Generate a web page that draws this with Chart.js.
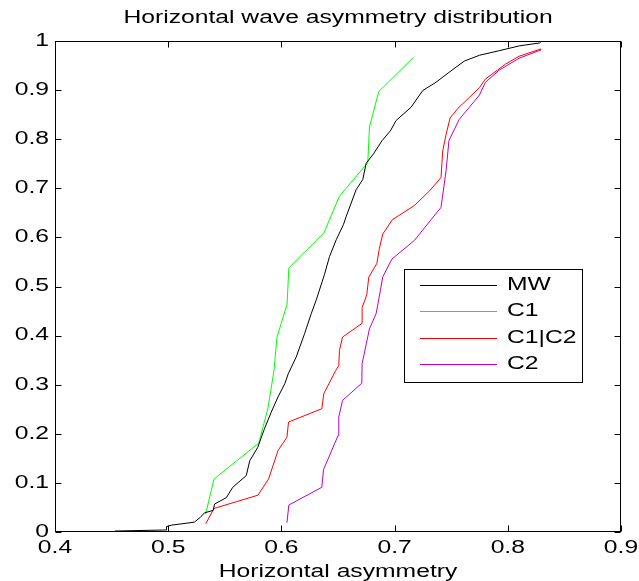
<!DOCTYPE html>
<html>
<head>
<meta charset="utf-8">
<script src="https://cdn.jsdelivr.net/npm/chart.js@4.4.1/dist/chart.umd.min.js"></script>
<style>
  html, body { margin: 0; padding: 0; background: #fff; }
  canvas { display: block; }
</style>
</head>
<body>
<canvas id="cdf" width="639" height="581"></canvas>
<script>
// ─── Horizontal wave asymmetry CDFs ───
const titleText  = 'Horizontal wave asymmetry distribution';
const xAxisTitle = 'Horizontal asymmetry';
const xTicks = [0.4, 0.5, 0.6, 0.7, 0.8, 0.9];
const yTicks = [0, 0.1, 0.2, 0.3, 0.4, 0.5, 0.6, 0.7, 0.8, 0.9, 1];

// MW (all waves)
const mwX = [0.453, 0.495, 0.4985, 0.4985, 0.503, 0.523, 0.528, 0.532, 0.5397, 0.541, 0.5514, 0.557,
             0.569, 0.572, 0.579, 0.585, 0.591, 0.597, 0.603, 0.606, 0.613, 0.6205, 0.6264, 0.6307,
             0.638, 0.6425, 0.6484, 0.6548, 0.6573, 0.666, 0.6719, 0.6749, 0.6813, 0.6889, 0.6963,
             0.7013, 0.7145, 0.7248, 0.7366, 0.748, 0.7615, 0.775, 0.792, 0.81, 0.828, 0.83];
const mwY = [0.002, 0.004, 0.004, 0.011, 0.014, 0.02, 0.029, 0.039, 0.044, 0.057, 0.070, 0.091,
             0.115, 0.145, 0.172, 0.21, 0.244, 0.275, 0.302, 0.322, 0.356, 0.404, 0.445, 0.472,
             0.524, 0.561, 0.595, 0.626, 0.643, 0.697, 0.718, 0.751, 0.770, 0.797, 0.817,
             0.838, 0.865, 0.899, 0.916, 0.936, 0.959, 0.971, 0.98, 0.99, 0.996, 1.0];

// C1
const c1X = [0.533, 0.5405, 0.580, 0.588, 0.5935, 0.596, 0.605, 0.6066, 0.6375, 0.6513, 0.6763, 0.6778, 0.686, 0.7168];
const c1Y = [0.036, 0.108, 0.181, 0.251, 0.329, 0.396, 0.464, 0.538, 0.609, 0.684, 0.752, 0.825, 0.897, 0.967];

// C1|C2
const c12X = [0.5332, 0.5405, 0.5793, 0.5887, 0.597, 0.6049, 0.6063, 0.6357, 0.6375, 0.648, 0.6507, 0.6513,
              0.654, 0.6713, 0.6713, 0.6754, 0.6772, 0.6843, 0.6866, 0.6896, 0.698, 0.7175, 0.731, 0.741,
              0.7425, 0.7455, 0.749, 0.756, 0.766, 0.775, 0.78, 0.798, 0.81, 0.8295];
const c12Y = [0.017, 0.048, 0.075, 0.108, 0.166, 0.193, 0.224, 0.251, 0.282, 0.329, 0.339, 0.370,
              0.397, 0.425, 0.457, 0.483, 0.519, 0.547, 0.578, 0.607, 0.636, 0.665, 0.695, 0.722,
              0.776, 0.81, 0.843, 0.863, 0.885, 0.905, 0.922, 0.953, 0.969, 0.984];

// C2
const c2X = [0.6049, 0.6066, 0.6357, 0.6372, 0.650, 0.6507, 0.654, 0.671, 0.6713, 0.6778, 0.6837, 0.6851,
             0.6896, 0.6977, 0.7175, 0.7322, 0.741, 0.7455, 0.748, 0.757, 0.766, 0.775, 0.78, 0.792, 0.81, 0.8295];
const c2Y = [0.019, 0.055, 0.091, 0.127, 0.196, 0.234, 0.268, 0.303, 0.343, 0.414, 0.445, 0.462,
             0.520, 0.556, 0.594, 0.636, 0.661, 0.736, 0.797, 0.84, 0.865, 0.89, 0.915, 0.94, 0.965, 0.982];

const seriesNames  = ['MW', 'C1', 'C1|C2', 'C2'];
const seriesColors = ['#000000', '#00ff00', '#ff0000', '#c000c0'];

function pairs(xs, ys) {
    return xs.map(function(x, i) { return { x: x, y: ys[i] }; });
}

const FONT    = '17.5px "Liberation Sans", Arial, sans-serif';
const STRETCH = 1.41;   // matlab export text is wide

function wideText(ctx, str, x, y, align) {
    ctx.save();
    ctx.translate(x, y);
    ctx.scale(STRETCH, 1);
    ctx.textAlign = align;
    ctx.textBaseline = 'middle';
    ctx.fillText(str, 0, 0);
    ctx.restore();
}

const matlabFrame = {
    id: 'matlabFrame',
    beforeDraw: function(chart) {
        const ctx = chart.ctx;
        ctx.save();
        ctx.fillStyle = '#fff';
        ctx.fillRect(0, 0, chart.width, chart.height);
        ctx.restore();
    },
    afterDraw: function(chart) {
        const ctx = chart.ctx;
        const a = chart.chartArea;
        const sx = chart.scales.x, sy = chart.scales.y;
        const L = Math.round(a.left) + 0.5, R = Math.round(a.right) - 0.5;
        const T = Math.round(a.top) + 0.5,  B = Math.round(a.bottom) - 0.5;
        const tl = 6;

        ctx.save();
        ctx.strokeStyle = '#000';
        ctx.lineWidth = 1;
        ctx.strokeRect(L, T, R - L, B - T);

        // inward ticks, all four sides
        ctx.beginPath();
        xTicks.forEach(function(v) {
            const px = Math.round(sx.getPixelForValue(v)) + 0.5;
            ctx.moveTo(px, B); ctx.lineTo(px, B - tl);
            ctx.moveTo(px, T); ctx.lineTo(px, T + tl);
        });
        yTicks.forEach(function(v) {
            const py = Math.round(sy.getPixelForValue(v)) + 0.5;
            ctx.moveTo(L, py); ctx.lineTo(L + tl, py);
            ctx.moveTo(R, py); ctx.lineTo(R - tl, py);
        });
        ctx.stroke();

        // tick labels + titles
        ctx.fillStyle = '#000';
        ctx.font = FONT;
        xTicks.forEach(function(v) {
            wideText(ctx, String(v), sx.getPixelForValue(v), 548, 'center');
        });
        yTicks.forEach(function(v) {
            wideText(ctx, String(v), 49, sy.getPixelForValue(v), 'right');
        });
        wideText(ctx, titleText, (a.left + a.right) / 2, 18, 'center');
        wideText(ctx, xAxisTitle, (a.left + a.right) / 2, 572, 'center');

        // legend box
        const bx = 404.5, by = 269.5, bw = 178, bh = 113;
        ctx.fillStyle = '#fff';
        ctx.fillRect(bx, by, bw, bh);
        ctx.strokeStyle = '#000';
        ctx.strokeRect(bx, by, bw, bh);
        const rows = [285.5, 311.5, 338.5, 364.5];
        seriesNames.forEach(function(name, i) {
            ctx.strokeStyle = seriesColors[i];
            ctx.beginPath();
            ctx.moveTo(420, rows[i]); ctx.lineTo(497, rows[i]);
            ctx.stroke();
            ctx.fillStyle = '#000';
            wideText(ctx, name, 507, rows[i], 'left');
        });
        ctx.restore();
    }
};

const datasets = [
    pairs(mwX, mwY), pairs(c1X, c1Y), pairs(c12X, c12Y), pairs(c2X, c2Y)
].map(function(pts, i) {
    return {
        label: seriesNames[i],
        data: pts,
        borderColor: seriesColors[i],
        borderWidth: 1,
        pointRadius: 0,
        tension: 0,
        fill: false
    };
});

new Chart(document.getElementById('cdf').getContext('2d'), {
    type: 'line',
    data: { datasets: datasets },
    options: {
        responsive: false,
        animation: false,
        layout: { padding: { left: 55, top: 41, right: 18, bottom: 49 } },
        plugins: {
            legend: { display: false },
            title: { display: false },
            tooltip: { enabled: false }
        },
        scales: {
            x: { type: 'linear', min: 0.4, max: 0.9, display: false },
            y: { type: 'linear', min: 0, max: 1, display: false }
        }
    },
    plugins: [matlabFrame]
});
</script>
</body>
</html>
